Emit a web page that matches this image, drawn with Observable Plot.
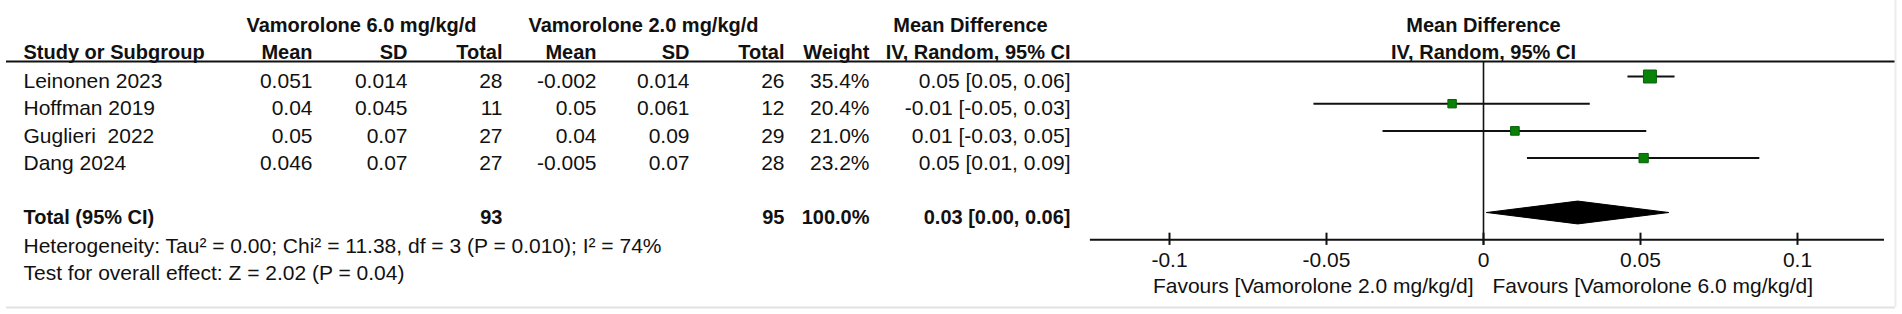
<!DOCTYPE html>
<html>
<head>
<meta charset="utf-8">
<script src="https://cdn.jsdelivr.net/npm/d3@7"></script>
<script src="https://cdn.jsdelivr.net/npm/@observablehq/plot@0.6"></script>
<style>
  html, body { margin: 0; padding: 0; background: #fff; }
  #chart svg { display: block; }
</style>
</head>
<body>
<div id="chart"></div>
<script>
// ---------- data ----------
const studies   = ["Leinonen 2023", "Hoffman 2019", "Guglieri\u00a0 2022", "Dang 2024"];
const mean6     = ["0.051", "0.04", "0.05", "0.046"];
const sd6       = ["0.014", "0.045", "0.07", "0.07"];
const total6    = ["28", "11", "27", "27"];
const mean2     = ["-0.002", "0.05", "0.04", "-0.005"];
const sd2       = ["0.014", "0.061", "0.09", "0.07"];
const total2    = ["26", "12", "29", "28"];
const weights   = [35.4, 20.4, 21.0, 23.2];
const weightLabels = ["35.4%", "20.4%", "21.0%", "23.2%"];
const mdLabels  = ["0.05 [0.05, 0.06]", "-0.01 [-0.05, 0.03]", "0.01 [-0.03, 0.05]", "0.05 [0.01, 0.09]"];
const md        = [0.053, -0.010, 0.010, 0.051];
const ciLow     = [0.046, -0.054, -0.032, 0.014];
const ciHigh    = [0.061, 0.034, 0.052, 0.088];

const totalN6 = "93", totalN2 = "95", totalWeight = "100.0%", totalLabel = "0.03 [0.00, 0.06]";
const totalMd = 0.030, totalLow = 0.001, totalHigh = 0.059;

const heterogeneity = "Heterogeneity: Tau\u00b2 = 0.00; Chi\u00b2 = 11.38, df = 3 (P = 0.010); I\u00b2 = 74%";
const overallTest   = "Test for overall effect: Z = 2.02 (P = 0.04)";
const groupHeaders  = ["Vamorolone 6.0 mg/kg/d", "Vamorolone 2.0 mg/kg/d", "Mean Difference"];
const colHeaders    = ["Mean", "SD", "Total", "Mean", "SD", "Total", "Weight", "IV, Random, 95% CI"];
const tickValues    = [-0.1, -0.05, 0, 0.05, 0.1];
const tickLabels    = ["-0.1", "-0.05", "0", "0.05", "0.1"];
const favoursLeft   = "Favours [Vamorolone 2.0 mg/kg/d]";
const favoursRight  = "Favours [Vamorolone 6.0 mg/kg/d]";

// ---------- table built from arrays ----------
const rows = studies.map((s, i) => ({
  i, study: s, mean6: mean6[i], sd6: sd6[i], total6: total6[i],
  mean2: mean2[i], sd2: sd2[i], total2: total2[i],
  w: weights[i], wl: weightLabels[i], mdl: mdLabels[i],
  md: md[i], lo: ciLow[i], hi: ciHigh[i]
}));
const ticks = tickValues.map((v, k) => ({v, label: tickLabels[k]}));
const halfH = 0.42;
const diamond = [
  {x: totalLow, y: 5}, {x: totalMd, y: 5 - halfH},
  {x: totalHigh, y: 5}, {x: totalMd, y: 5 + halfH}, {x: totalLow, y: 5}
];

// ---------- layout ----------
const FONT = "'Liberation Sans', Arial, Helvetica, sans-serif";
const FS = 21, FSB = 20;
const yHead1 = -1.875, yHead2 = -0.882, yRule = -0.55;
const yTotal = 5, yHet = 6.25, yTest = 7.24, yAxis = 6, yTickLab = 6.76, yFav = 7.72, yBottom = 8.49;
const colRight = [312, 407, 502, 596, 689, 784, 869, 1070];
const groupCenter = [361, 643, 970];
const leftX = 23;

const cell = (data, field, px, extra = {}) =>
  Plot.text(data, {y: "i", text: field, frameAnchor: "left", dx: px, dy: 5,
                   textAnchor: "end", fontSize: FS, fill: "#111", ...extra});
const one = (y, text, px, extra = {}) =>
  Plot.text([text], {y: () => y, text: d => d, frameAnchor: "left", dx: px,
                     textAnchor: "end", fontSize: FS, fill: "#111", ...extra});

const marks = [
  // group headers
  ...groupHeaders.map((t, k) => one(yHead1, t, groupCenter[k], {textAnchor: "middle", fontWeight: "bold", fontSize: FSB})),
  Plot.text(["Mean Difference"], {x: () => 0, y: () => yHead1, text: d => d, fontWeight: "bold", fontSize: FSB, fill: "#111"}),
  // column headers
  one(yHead2, "Study or Subgroup", leftX, {textAnchor: "start", fontWeight: "bold", fontSize: FSB}),
  ...colHeaders.map((t, k) => one(yHead2, t, colRight[k], {fontWeight: "bold", fontSize: FSB})),
  Plot.text(["IV, Random, 95% CI"], {x: () => 0, y: () => yHead2, text: d => d, fontWeight: "bold", fontSize: FSB, fill: "#111"}),
  // header underline
  Plot.ruleY([yRule], {stroke: "#111", strokeWidth: 2, insetLeft: 6, insetRight: 7}),
  // study rows
  cell(rows, "study", leftX, {textAnchor: "start"}),
  cell(rows, "mean6", colRight[0]),
  cell(rows, "sd6", colRight[1]),
  cell(rows, "total6", colRight[2]),
  cell(rows, "mean2", colRight[3]),
  cell(rows, "sd2", colRight[4]),
  cell(rows, "total2", colRight[5]),
  cell(rows, "wl", colRight[6]),
  cell(rows, "mdl", colRight[7]),
  // total row
  one(yTotal + 0.18, "Total (95% CI)", leftX, {textAnchor: "start", fontWeight: "bold", fontSize: FSB}),
  one(yTotal + 0.18, totalN6, colRight[2], {fontWeight: "bold", fontSize: FSB}),
  one(yTotal + 0.18, totalN2, colRight[5], {fontWeight: "bold", fontSize: FSB}),
  one(yTotal + 0.18, totalWeight, colRight[6], {fontWeight: "bold", fontSize: FSB}),
  one(yTotal + 0.18, totalLabel, colRight[7], {fontWeight: "bold", fontSize: FSB}),
  one(yHet, heterogeneity, leftX, {textAnchor: "start"}),
  one(yTest, overallTest, leftX, {textAnchor: "start"}),
  // forest plot
  Plot.ruleX([0], {y1: yRule, y2: 6.21, stroke: "#111", strokeWidth: 1.6}),
  Plot.ruleY(rows, {y: "i", x1: "lo", x2: "hi", stroke: "#111", strokeWidth: 2}),
  Plot.dot(rows, {x: "md", y: "i", r: "w", symbol: "square", fill: "#0a820a", stroke: "#056005", strokeWidth: 1}),
  Plot.line(diamond, {x: "x", y: "y", fill: "#000", stroke: "#000", strokeWidth: 1, strokeLinejoin: "round"}),
  // axis
  Plot.ruleY([yAxis], {x1: () => -0.1252, x2: () => 0.1277, stroke: "#111", strokeWidth: 2}),
  Plot.ruleX(ticks, {x: "v", y1: 5.76, y2: 6.21, stroke: "#111", strokeWidth: 2}),
  Plot.text(ticks, {x: "v", y: () => yTickLab, text: "label", fontSize: FS, fill: "#111"}),
  Plot.text([favoursLeft], {x: () => 0, y: () => yFav, text: d => d, dx: -10, textAnchor: "end", fontSize: FS, fill: "#111"}),
  Plot.text([favoursRight], {x: () => 0, y: () => yFav, text: d => d, dx: 9, textAnchor: "start", fontSize: FS, fill: "#111"}),
  // faint frame
  Plot.ruleY([yBottom], {stroke: "#e2e2e2", strokeWidth: 2, insetLeft: 6, insetRight: 7}),
  Plot.ruleX([0.1312], {y1: -2.8, y2: yBottom, stroke: "#ececec", strokeWidth: 2})
];

const chart = Plot.plot({
  width: 1902,
  height: 314,
  marginTop: 0, marginRight: 0, marginBottom: 0, marginLeft: 0,
  style: {fontFamily: FONT, background: "#fff", color: "#111"},
  x: {type: "linear", domain: [-0.1, 0.1], range: [1169, 1797], axis: null},
  y: {type: "linear", domain: [0, 1], range: [76, 103.2], axis: null},
  r: {type: "linear", domain: [10, 35.4], range: [3, 7.3]},
  marks
});
document.getElementById("chart").appendChild(chart);
</script>
</body>
</html>
